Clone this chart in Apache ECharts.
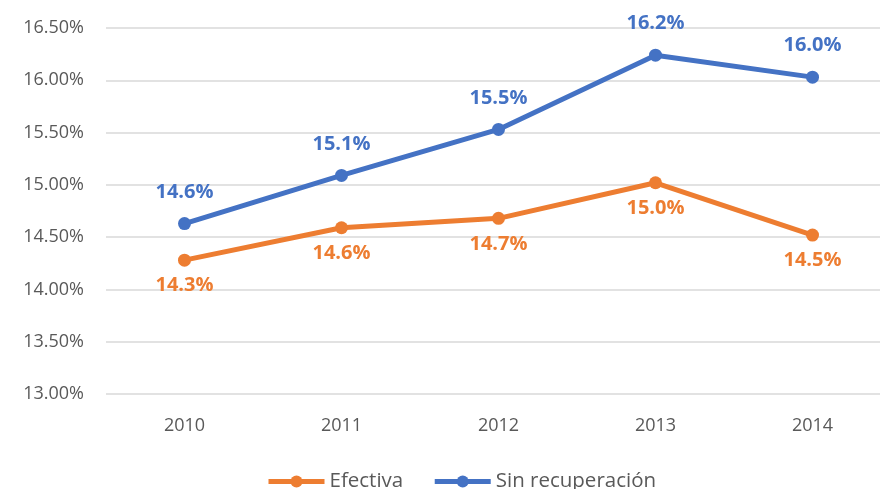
<!DOCTYPE html>
<html>
<head>
<meta charset="utf-8">
<script src="https://cdn.jsdelivr.net/npm/echarts@6/dist/echarts.min.js"></script>
<style>
  html, body { margin: 0; padding: 0; background: #fff; }
  #chart { width: 880px; height: 489px; }
</style>
</head>
<body>
<div id="chart"></div>
<script>
// data (percent)
const years = ['2010', '2011', '2012', '2013', '2014'];
const efectiva = [14.28, 14.59, 14.68, 15.02, 14.52];
const sinRecuperacion = [14.63, 15.09, 15.53, 16.24, 16.03];

const chart = echarts.init(document.getElementById('chart'));
const font = '"Open Sans", "Noto Sans", sans-serif';

const makeSeries = (name, data, color, pos, dist) => ({
    name: name,
    type: 'line',
    data: data,
    symbol: 'circle',
    symbolSize: 13,
    lineStyle: { width: 5, color: color },
    itemStyle: { color: color },
    label: {
        show: true,
        position: pos,
        distance: dist,
        color: color,
        fontFamily: font,
        fontWeight: 'bold',
        fontSize: 20,
        formatter: p => p.value.toFixed(1) + '%'
    },
    emphasis: { disabled: true }
});

chart.setOption({
    backgroundColor: '#fff',
    animation: false,
    grid: { left: 106, top: 28, width: 785, height: 366, containLabel: false, outerBoundsMode: 'none' },
    legend: {
        bottom: -8,
        left: 261,
        itemWidth: 56,
        itemHeight: 15,
        itemGap: 29,
        lineStyle: { width: 5 },
        textStyle: { color: '#595959', fontSize: 20.5, fontFamily: font },
        data: ['Efectiva', 'Sin recuperación']
    },
    xAxis: {
        type: 'category',
        data: years,
        axisLine: { show: false },
        axisTick: { show: false },
        axisLabel: { color: '#595959', fontSize: 18, fontFamily: font, margin: 23 }
    },
    yAxis: {
        type: 'value',
        min: 13,
        max: 16.5,
        interval: 0.5,
        axisLine: { show: false },
        axisTick: { show: false },
        splitLine: { lineStyle: { color: '#d9d9d9', width: 1.5 } },
        axisLabel: {
            color: '#595959',
            fontSize: 18,
            fontFamily: font,
            margin: 22,
            formatter: v => v.toFixed(2) + '%'
        }
    },
    series: [
        makeSeries('Efectiva', efectiva, '#ED7D31', 'bottom', 9),
        makeSeries('Sin recuperación', sinRecuperacion, '#4472C4', 'top', 15)
    ]
});
</script>
</body>
</html>
